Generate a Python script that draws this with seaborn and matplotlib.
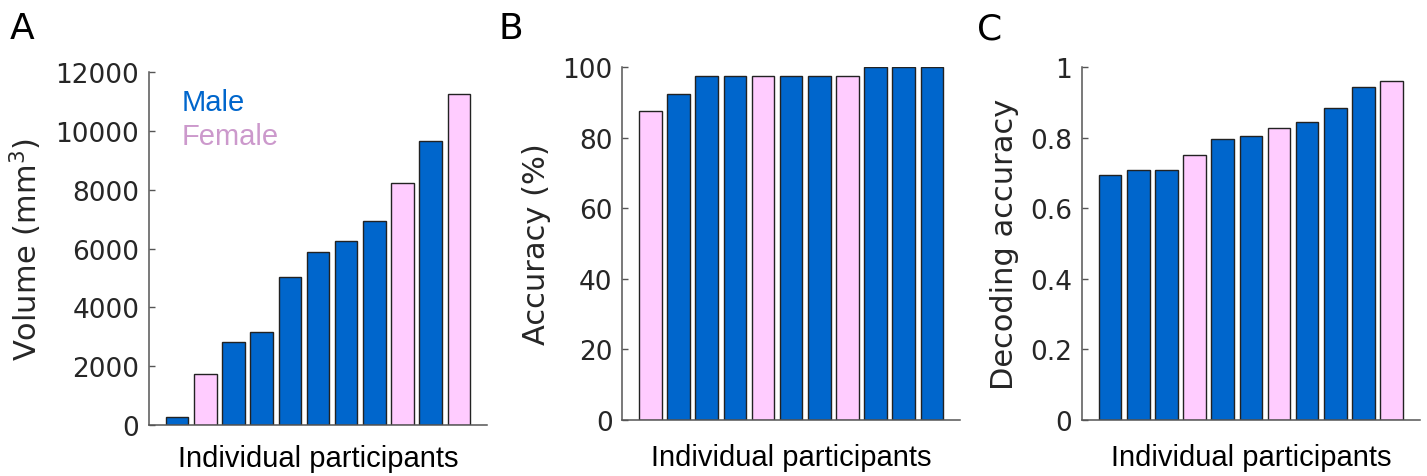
import pandas as pd
import numpy as np
import seaborn as sns
import matplotlib.pyplot as plt

blue = "#0066CC"
pink = "#FFCCFF"
palette = {"Male": blue, "Female": pink}

# values, participants in plotted order
volume = [280, 1720, 2820, 3160, 5040, 5880, 6240, 6950, 8215, 9650, 11260]
volume_sex = ["Male", "Female", "Male", "Male", "Male", "Male", "Male", "Male", "Female", "Male", "Female"]

accuracy = [87.5, 92.5, 97.5, 97.5, 97.5, 97.5, 97.5, 97.5, 100, 100, 100]
accuracy_sex = ["Female", "Male", "Male", "Male", "Female", "Male", "Male", "Female", "Male", "Male", "Male"]

decoding = [0.695, 0.71, 0.71, 0.75, 0.797, 0.805, 0.829, 0.844, 0.884, 0.945, 0.961]
decoding_sex = ["Male", "Male", "Male", "Female", "Male", "Male", "Female", "Male", "Male", "Male", "Female"]

sns.set_style("white")
plt.rcParams['font.family'] = ['DejaVu Sans']

fig = plt.figure(figsize=(14.27, 4.77), dpi=100)
axA = fig.add_axes([0.1044, 0.1069, 0.2369, 0.7400])
axB = fig.add_axes([0.4361, 0.1180, 0.2366, 0.7388])
axC = fig.add_axes([0.7582, 0.1180, 0.2368, 0.7388])

panels = [
    (axA, volume, volume_sex, np.arange(0, 12001, 2000), None, (0, 12000), "Volume (mm$^3$)", 14),
    (axB, accuracy, accuracy_sex, np.arange(0, 101, 20), None, (0, 100), "Accuracy (%)", 17),
    (axC, decoding, decoding_sex, np.linspace(0, 1, 6), ["0", "0.2", "0.4", "0.6", "0.8", "1"], (0, 1), "Decoding accuracy", 17),
]

for ax, vals, sex, ticks, ticklabels, ylim, ylabel, xpad in panels:
    df = pd.DataFrame({"participant": [str(i) for i in range(len(vals))], "value": vals, "sex": sex})
    sns.barplot(data=df, x="participant", y="value", hue="sex", palette=palette,
                dodge=False, width=0.8, saturation=1, edgecolor="#222222", linewidth=1.0,
                legend=False, ax=ax)
    ax.set_xlim(-1, 11)
    ax.set_ylim(*ylim)
    ax.set_yticks(ticks)
    if ticklabels is not None:
        ax.set_yticklabels(ticklabels)
    ax.set_xticks([])
    ax.tick_params(axis="y", direction="in", length=4, width=1, color="#555555",
                   labelsize=19, labelcolor="#262626", pad=7, left=True)
    for s in ["top", "right"]:
        ax.spines[s].set_visible(False)
    for s in ["left", "bottom"]:
        ax.spines[s].set_color("#555555")
        ax.spines[s].set_linewidth(1.1)
    ax.set_ylabel(ylabel, fontsize=22, color="#262626", labelpad=8)
    ax.set_xlabel("Individual participants", fontsize=21, family="Liberation Sans",
                  color="black", labelpad=xpad)

# coloured text legend in panel A
fig.text(0.127, 1 - 103 / 477, "Male", fontsize=21, family="Liberation Sans",
         color=blue, va="center")
fig.text(0.127, 1 - 137 / 477, "Female", fontsize=21, family="Liberation Sans",
         color="#CC99CC", va="center")

for lbl, x in [("A", 22 / 1427), ("B", 511 / 1427), ("C", 990 / 1427)]:
    fig.text(x, 1 - 29 / 477, lbl, fontsize=26, color="black", ha="center", va="center")

fig.savefig("out.png", dpi=100)
